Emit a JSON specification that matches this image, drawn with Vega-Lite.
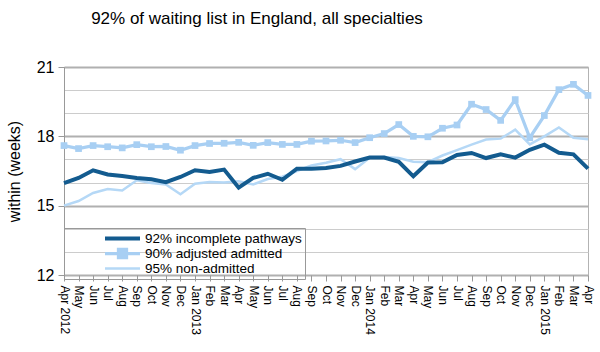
{
  "$schema": "https://vega.github.io/schema/vega-lite/v6.json",
  "width": 524,
  "height": 208,
  "autosize": {"type": "none"},
  "padding": {"left": 64, "top": 67, "right": 12, "bottom": 77},
  "config": {
    "font": "Liberation Sans",
    "view": {"stroke": "#b3b3b3", "strokeWidth": 1}
  },
  "title": {
    "text": "92% of waiting list in England, all specialties",
    "fontSize": 17,
    "fontWeight": "normal",
    "color": "#000",
    "anchor": "middle",
    "dx": -69,
    "offset": 31
  },
  "data": {"values": [
    {"month": "Apr 2012", "series": "95% non-admitted", "value": 15.0},
    {"month": "May 2012", "series": "95% non-admitted", "value": 15.2},
    {"month": "Jun 2012", "series": "95% non-admitted", "value": 15.55},
    {"month": "Jul 2012", "series": "95% non-admitted", "value": 15.72},
    {"month": "Aug 2012", "series": "95% non-admitted", "value": 15.66},
    {"month": "Sep 2012", "series": "95% non-admitted", "value": 16.1},
    {"month": "Oct 2012", "series": "95% non-admitted", "value": 15.98},
    {"month": "Nov 2012", "series": "95% non-admitted", "value": 15.92},
    {"month": "Dec 2012", "series": "95% non-admitted", "value": 15.49},
    {"month": "Jan 2013", "series": "95% non-admitted", "value": 15.95},
    {"month": "Feb 2013", "series": "95% non-admitted", "value": 16.02},
    {"month": "Mar 2013", "series": "95% non-admitted", "value": 16.0},
    {"month": "Apr 2013", "series": "95% non-admitted", "value": 16.06},
    {"month": "May 2013", "series": "95% non-admitted", "value": 15.92},
    {"month": "Jun 2013", "series": "95% non-admitted", "value": 16.15},
    {"month": "Jul 2013", "series": "95% non-admitted", "value": 16.25},
    {"month": "Aug 2013", "series": "95% non-admitted", "value": 16.5},
    {"month": "Sep 2013", "series": "95% non-admitted", "value": 16.74},
    {"month": "Oct 2013", "series": "95% non-admitted", "value": 16.86},
    {"month": "Nov 2013", "series": "95% non-admitted", "value": 17.01},
    {"month": "Dec 2013", "series": "95% non-admitted", "value": 16.58},
    {"month": "Jan 2014", "series": "95% non-admitted", "value": 17.07},
    {"month": "Feb 2014", "series": "95% non-admitted", "value": 17.11},
    {"month": "Mar 2014", "series": "95% non-admitted", "value": 17.06},
    {"month": "Apr 2014", "series": "95% non-admitted", "value": 16.9},
    {"month": "May 2014", "series": "95% non-admitted", "value": 16.88},
    {"month": "Jun 2014", "series": "95% non-admitted", "value": 17.17},
    {"month": "Jul 2014", "series": "95% non-admitted", "value": 17.4},
    {"month": "Aug 2014", "series": "95% non-admitted", "value": 17.64},
    {"month": "Sep 2014", "series": "95% non-admitted", "value": 17.86},
    {"month": "Oct 2014", "series": "95% non-admitted", "value": 17.9},
    {"month": "Nov 2014", "series": "95% non-admitted", "value": 18.29},
    {"month": "Dec 2014", "series": "95% non-admitted", "value": 17.65},
    {"month": "Jan 2015", "series": "95% non-admitted", "value": 18.0},
    {"month": "Feb 2015", "series": "95% non-admitted", "value": 18.38},
    {"month": "Mar 2015", "series": "95% non-admitted", "value": 17.94},
    {"month": "Apr 2015", "series": "95% non-admitted", "value": 17.87},

    {"month": "Apr 2012", "series": "90% adjusted admitted", "value": 17.6},
    {"month": "May 2012", "series": "90% adjusted admitted", "value": 17.47},
    {"month": "Jun 2012", "series": "90% adjusted admitted", "value": 17.6},
    {"month": "Jul 2012", "series": "90% adjusted admitted", "value": 17.55},
    {"month": "Aug 2012", "series": "90% adjusted admitted", "value": 17.5},
    {"month": "Sep 2012", "series": "90% adjusted admitted", "value": 17.64},
    {"month": "Oct 2012", "series": "90% adjusted admitted", "value": 17.55},
    {"month": "Nov 2012", "series": "90% adjusted admitted", "value": 17.56},
    {"month": "Dec 2012", "series": "90% adjusted admitted", "value": 17.4},
    {"month": "Jan 2013", "series": "90% adjusted admitted", "value": 17.6},
    {"month": "Feb 2013", "series": "90% adjusted admitted", "value": 17.69},
    {"month": "Mar 2013", "series": "90% adjusted admitted", "value": 17.7},
    {"month": "Apr 2013", "series": "90% adjusted admitted", "value": 17.74},
    {"month": "May 2013", "series": "90% adjusted admitted", "value": 17.61},
    {"month": "Jun 2013", "series": "90% adjusted admitted", "value": 17.73},
    {"month": "Jul 2013", "series": "90% adjusted admitted", "value": 17.65},
    {"month": "Aug 2013", "series": "90% adjusted admitted", "value": 17.65},
    {"month": "Sep 2013", "series": "90% adjusted admitted", "value": 17.79},
    {"month": "Oct 2013", "series": "90% adjusted admitted", "value": 17.8},
    {"month": "Nov 2013", "series": "90% adjusted admitted", "value": 17.83},
    {"month": "Dec 2013", "series": "90% adjusted admitted", "value": 17.73},
    {"month": "Jan 2014", "series": "90% adjusted admitted", "value": 17.94},
    {"month": "Feb 2014", "series": "90% adjusted admitted", "value": 18.12},
    {"month": "Mar 2014", "series": "90% adjusted admitted", "value": 18.51},
    {"month": "Apr 2014", "series": "90% adjusted admitted", "value": 18.0},
    {"month": "May 2014", "series": "90% adjusted admitted", "value": 17.98},
    {"month": "Jun 2014", "series": "90% adjusted admitted", "value": 18.35},
    {"month": "Jul 2014", "series": "90% adjusted admitted", "value": 18.49},
    {"month": "Aug 2014", "series": "90% adjusted admitted", "value": 19.39},
    {"month": "Sep 2014", "series": "90% adjusted admitted", "value": 19.16},
    {"month": "Oct 2014", "series": "90% adjusted admitted", "value": 18.69},
    {"month": "Nov 2014", "series": "90% adjusted admitted", "value": 19.59},
    {"month": "Dec 2014", "series": "90% adjusted admitted", "value": 17.94},
    {"month": "Jan 2015", "series": "90% adjusted admitted", "value": 18.9},
    {"month": "Feb 2015", "series": "90% adjusted admitted", "value": 20.02},
    {"month": "Mar 2015", "series": "90% adjusted admitted", "value": 20.25},
    {"month": "Apr 2015", "series": "90% adjusted admitted", "value": 19.77},

    {"month": "Apr 2012", "series": "92% incomplete pathways", "value": 15.98},
    {"month": "May 2012", "series": "92% incomplete pathways", "value": 16.2},
    {"month": "Jun 2012", "series": "92% incomplete pathways", "value": 16.53},
    {"month": "Jul 2012", "series": "92% incomplete pathways", "value": 16.35},
    {"month": "Aug 2012", "series": "92% incomplete pathways", "value": 16.28},
    {"month": "Sep 2012", "series": "92% incomplete pathways", "value": 16.2},
    {"month": "Oct 2012", "series": "92% incomplete pathways", "value": 16.14},
    {"month": "Nov 2012", "series": "92% incomplete pathways", "value": 16.02},
    {"month": "Dec 2012", "series": "92% incomplete pathways", "value": 16.24},
    {"month": "Jan 2013", "series": "92% incomplete pathways", "value": 16.53},
    {"month": "Feb 2013", "series": "92% incomplete pathways", "value": 16.46},
    {"month": "Mar 2013", "series": "92% incomplete pathways", "value": 16.56},
    {"month": "Apr 2013", "series": "92% incomplete pathways", "value": 15.78},
    {"month": "May 2013", "series": "92% incomplete pathways", "value": 16.2},
    {"month": "Jun 2013", "series": "92% incomplete pathways", "value": 16.38},
    {"month": "Jul 2013", "series": "92% incomplete pathways", "value": 16.12},
    {"month": "Aug 2013", "series": "92% incomplete pathways", "value": 16.6},
    {"month": "Sep 2013", "series": "92% incomplete pathways", "value": 16.6},
    {"month": "Oct 2013", "series": "92% incomplete pathways", "value": 16.63},
    {"month": "Nov 2013", "series": "92% incomplete pathways", "value": 16.72},
    {"month": "Dec 2013", "series": "92% incomplete pathways", "value": 16.91},
    {"month": "Jan 2014", "series": "92% incomplete pathways", "value": 17.08},
    {"month": "Feb 2014", "series": "92% incomplete pathways", "value": 17.08},
    {"month": "Mar 2014", "series": "92% incomplete pathways", "value": 16.9},
    {"month": "Apr 2014", "series": "92% incomplete pathways", "value": 16.27},
    {"month": "May 2014", "series": "92% incomplete pathways", "value": 16.87},
    {"month": "Jun 2014", "series": "92% incomplete pathways", "value": 16.88},
    {"month": "Jul 2014", "series": "92% incomplete pathways", "value": 17.19},
    {"month": "Aug 2014", "series": "92% incomplete pathways", "value": 17.28},
    {"month": "Sep 2014", "series": "92% incomplete pathways", "value": 17.06},
    {"month": "Oct 2014", "series": "92% incomplete pathways", "value": 17.22},
    {"month": "Nov 2014", "series": "92% incomplete pathways", "value": 17.08},
    {"month": "Dec 2014", "series": "92% incomplete pathways", "value": 17.42},
    {"month": "Jan 2015", "series": "92% incomplete pathways", "value": 17.64},
    {"month": "Feb 2015", "series": "92% incomplete pathways", "value": 17.29},
    {"month": "Mar 2015", "series": "92% incomplete pathways", "value": 17.22},
    {"month": "Apr 2015", "series": "92% incomplete pathways", "value": 16.6}
  ]},
  "encoding": {
    "x": {
      "field": "month",
      "type": "ordinal",
      "sort": null,
      "scale": {"type": "point", "padding": 0},
      "axis": {
        "title": null,
        "grid": false,
        "domain": false,
        "labelAngle": 90,
        "labelFontSize": 12,
        "labelColor": "#000",
        "labelPadding": 4,
        "labelExpr": "(slice(datum.value,0,3)=='Jan' || datum.value=='Apr 2012') ? datum.value : slice(datum.value,0,3)",
        "tickColor": "#999",
        "tickSize": 6
      }
    },
    "y": {
      "field": "value",
      "type": "quantitative",
      "scale": {"domain": [12, 21], "nice": false, "zero": false},
      "axis": {
        "title": "within (weeks)",
        "titleFontSize": 16,
        "titleFontWeight": "normal",
        "titleColor": "#000",
        "titlePadding": 14,
        "values": [12, 13, 14, 15, 16, 17, 18, 19, 20, 21],
        "labelExpr": "datum.value % 3 === 0 ? datum.value : ''",
        "labelFontSize": 16,
        "labelColor": "#000",
        "labelPadding": 4,
        "domainColor": "#999",
        "tickColor": "#999",
        "tickSize": 6,
        "tickOpacity": {"condition": {"test": "datum.value % 3 === 0", "value": 1}, "value": 0},
        "gridColor": {"condition": {"test": "datum.value % 3 === 0", "value": "#b0b0b0"}, "value": "#cccccc"},
        "gridWidth": {"condition": {"test": "datum.value % 3 === 0", "value": 2}, "value": 1}
      }
    },
    "color": {
      "field": "series",
      "type": "nominal",
      "scale": {
        "domain": ["92% incomplete pathways", "90% adjusted admitted", "95% non-admitted"],
        "range": ["#135b8f", "#a8cff3", "#b5d8f6"]
      },
      "legend": {
        "title": null,
        "orient": "none",
        "legendX": 0,
        "legendY": 161,
        "direction": "vertical",
        "strokeColor": "#999",
        "padding": 3,
        "symbolType": "stroke",
        "symbolSize": 1225,
        "symbolOffset": 36,
        "clipHeight": 15,
        "rowPadding": 0,
        "labelFontSize": 13.5,
        "labelColor": "#000",
        "labelOffset": 3,
        "encode": {
          "symbols": {
            "update": {
              "shape": {"signal": "datum.value === '90% adjusted admitted' ? 'M-1,0L1,0M-0.23,-0.23L0.23,-0.23L0.23,0.23L-0.23,0.23Z' : 'stroke'"},
              "strokeWidth": {"signal": "datum.value === '92% incomplete pathways' ? 2.5 : 2"},
              "fill": {"signal": "datum.value === '90% adjusted admitted' ? '#a8cff3' : 'transparent'"}
            }
          }
        }
      }
    }
  },
  "layer": [
    {
      "mark": {"type": "line"},
      "encoding": {
        "strokeWidth": {
          "field": "series",
          "type": "nominal",
          "scale": {
            "domain": ["92% incomplete pathways", "90% adjusted admitted", "95% non-admitted"],
            "range": [4, 2.5, 2]
          },
          "legend": null
        }
      }
    },
    {
      "mark": {"type": "square", "size": 45, "filled": true},
      "encoding": {
        "opacity": {"condition": {"test": "datum.series === '90% adjusted admitted'", "value": 1}, "value": 0}
      }
    }
  ]
}
